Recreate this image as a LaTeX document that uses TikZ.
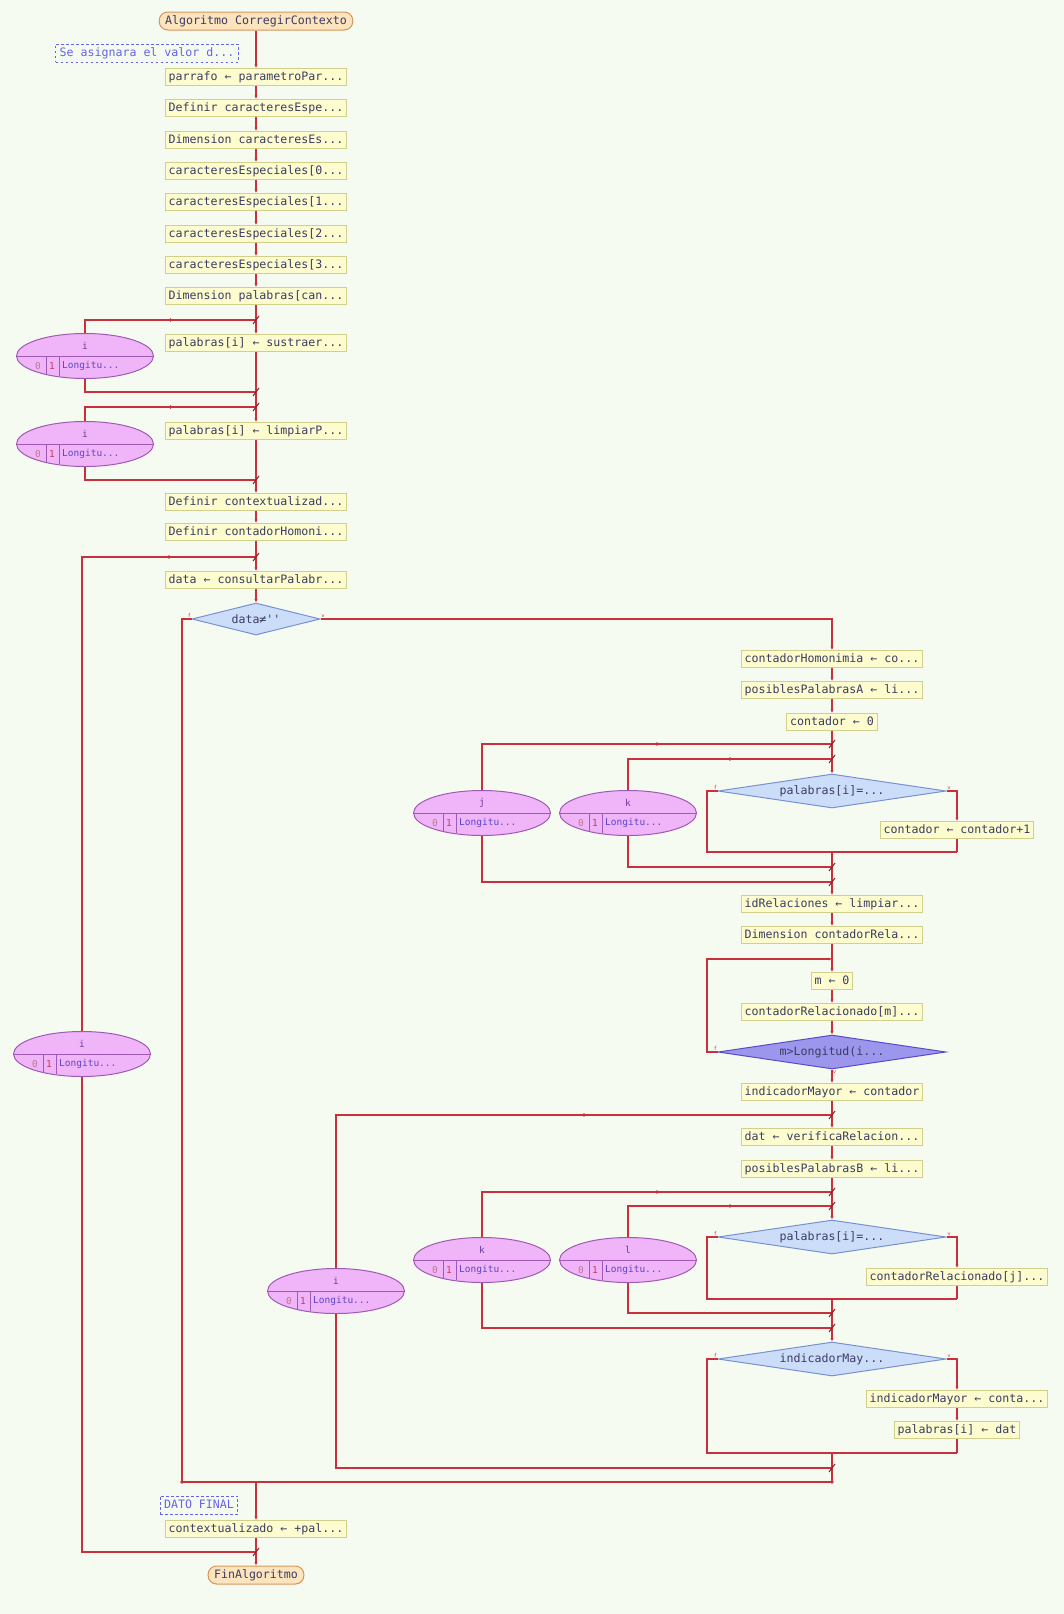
\documentclass[tikz,border=0pt]{standalone}
\usepackage{fontspec}
\setmonofont{DejaVu Sans Mono}
\usepackage{tikz}
\usetikzlibrary{shapes.geometric,arrows.meta,calc}

\definecolor{fondo}{RGB}{246,251,242}
\definecolor{rojo}{RGB}{200,48,60}
\definecolor{tinta}{RGB}{60,60,100}
\definecolor{cajafondo}{RGB}{252,252,206}
\definecolor{cajaborde}{RGB}{208,208,140}
\definecolor{termfondo}{RGB}{252,228,190}
\definecolor{termborde}{RGB}{214,150,90}
\definecolor{notacolor}{RGB}{100,100,230}
\definecolor{decfondo}{RGB}{204,221,250}
\definecolor{decborde}{RGB}{120,144,208}
\definecolor{repfondo}{RGB}{156,150,236}
\definecolor{repborde}{RGB}{90,76,200}
\definecolor{parafondo}{RGB}{240,180,248}
\definecolor{paraborde}{RGB}{160,90,180}
\definecolor{paratinta}{RGB}{110,60,160}

\tikzset{
    every node/.style={font=\ttfamily\fontsize{11.6pt}{13pt}\selectfont, text=tinta},
    caja/.style={draw=cajaborde, fill=cajafondo, line width=1pt, inner xsep=3.5pt, inner ysep=0pt,
        minimum height=17pt, text height=8.5pt, text depth=2.5pt},
    term/.style={caja, draw=termborde, fill=termfondo, rounded corners=8.5pt, minimum height=18pt, inner xsep=6pt},
    nota/.style={draw=notacolor, dash pattern=on 2.5pt off 2.5pt, line width=1pt, text=notacolor,
        inner xsep=4pt, inner ysep=0pt, minimum height=18pt, text height=8.5pt, text depth=2.5pt},
    decision/.style={diamond, aspect=6.7, draw=decborde, fill=decfondo, line width=1pt, inner sep=0pt,
        minimum width=228pt, minimum height=34pt},
    repetir/.style={decision, draw=repborde, fill=repfondo},
    paraell/.style={ellipse, draw=paraborde, fill=parafondo, line width=1pt, inner sep=0pt,
        minimum width=137pt, minimum height=45pt},
    paradiv/.style={draw=paraborde, line width=0.8pt},
    paratxt/.style={font=\ttfamily\fontsize{9.5pt}{10pt}\selectfont, inner sep=0pt},
    linea/.style={draw=rojo, line width=1.5pt},
    flujo/.style={linea, -{Latex[length=3.5pt,width=3.5pt]}},
    marca/.style={draw=rojo!70!black, line width=1pt},
    etq/.style={font=\sffamily\fontsize{6pt}{6pt}\selectfont, text=rojo, inner sep=1pt},
}

% elipse de un ciclo Para: nombre, posicion, variable
\newcommand{\bucle}[3]{%
    \node[paraell] (#1) at (#2) {};
    \draw[paradiv] (#1.west) -- (#1.east)
        ([shift={(-39,0)}]#1.center) -- ++(0,18)
        ([shift={(-26,0)}]#1.center) -- ++(0,20);
    \node[paratxt, text=paratinta] (#1v) at ([shift={(0,-10)}]#1.center) {#3};
    \node[paratxt, text={rgb,255:red,190;green,120;blue,140}] (#1a) at ([shift={(-47,10)}]#1.center) {0};
    \node[paratxt, text={rgb,255:red,200;green,60;blue,90}] (#1b) at ([shift={(-33,10)}]#1.center) {1};
    \node[paratxt, text={rgb,255:red,90;green,70;blue,200}, anchor=west] (#1c) at ([shift={(-23,10)}]#1.center) {Longitu...};
}

\begin{document}
\begin{tikzpicture}[x=1pt,y=-1pt]
    \fill[fondo] (0,0) rectangle (1064,1614);

    % columna principal
    \node[term] (inicio) at (256,21) {Algoritmo CorregirContexto};
    \node[nota] (com1) at (147,53) {Se asignara el valor d...};
    \node[caja] (b1) at (256,77) {parrafo ← parametroPar...};
    \node[caja] (b2) at (256,108) {Definir caracteresEspe...};
    \node[caja] (b3) at (256,140) {Dimension caracteresEs...};
    \node[caja] (b4) at (256,171) {caracteresEspeciales[0...};
    \node[caja] (b5) at (256,202) {caracteresEspeciales[1...};
    \node[caja] (b6) at (256,234) {caracteresEspeciales[2...};
    \node[caja] (b7) at (256,265) {caracteresEspeciales[3...};
    \node[caja] (b8) at (256,296) {Dimension palabras[can...};
    \node[caja] (b9) at (256,343) {palabras[i] ← sustraer...};
    \node[caja] (b10) at (256,431) {palabras[i] ← limpiarP...};
    \node[caja] (b11) at (256,502) {Definir contextualizad...};
    \node[caja] (b12) at (256,532) {Definir contadorHomoni...};
    \node[caja] (b13) at (256,580) {data ← consultarPalabr...};
    \node[decision, aspect=4, minimum width=128pt, minimum height=32pt,
        label={[etq,anchor=south east]west:f}, label={[etq,anchor=south west]east:v}] (d1) at (256,619) {data≠''};

    % rama verdadera
    \node[caja] (b14) at (832,659) {contadorHomonimia ← co...};
    \node[caja] (b15) at (832,690) {posiblesPalabrasA ← li...};
    \node[caja] (b16) at (832,722) {contador ← 0};
    \node[decision, label={[etq,anchor=south east]west:f}, label={[etq,anchor=south west]east:v}] (d2) at (832,791) {palabras[i]=...};
    \node[caja] (b17) at (957,830) {contador ← contador+1};
    \node[caja] (b18) at (832,904) {idRelaciones ← limpiar...};
    \node[caja] (b19) at (832,935) {Dimension contadorRela...};
    \node[caja] (b20) at (832,981) {m ← 0};
    \node[caja] (b21) at (832,1012) {contadorRelacionado[m]...};
    \node[repetir, label={[etq,anchor=south east]west:f}, label={[etq,anchor=north west]south:v}] (d3) at (832,1052) {m>Longitud(i...};
    \node[caja] (b22) at (832,1092) {indicadorMayor ← contador};
    \node[caja] (b23) at (832,1137) {dat ← verificaRelacion...};
    \node[caja] (b24) at (832,1169) {posiblesPalabrasB ← li...};
    \node[decision, label={[etq,anchor=south east]west:f}, label={[etq,anchor=south west]east:v}] (d4) at (832,1237) {palabras[i]=...};
    \node[caja] (b25) at (957,1277) {contadorRelacionado[j]...};
    \node[decision, label={[etq,anchor=south east]west:f}, label={[etq,anchor=south west]east:v}] (d5) at (832,1359) {indicadorMay...};
    \node[caja] (b26) at (957,1399) {indicadorMayor ← conta...};
    \node[caja] (b27) at (957,1430) {palabras[i] ← dat};

    % final
    \node[nota] (com2) at (199,1505) {DATO FINAL};
    \node[caja] (b28) at (256,1529) {contextualizado ← +pal...};
    \node[term] (fin) at (256,1575) {FinAlgoritmo};

    % ciclos Para
    \bucle{e1}{85,356}{i}
    \bucle{e2}{85,444}{i}
    \bucle{e3}{82,1054}{i}
    \bucle{ej}{482,813}{j}
    \bucle{ek}{628,813}{k}
    \bucle{ei}{336,1291}{i}
    \bucle{ek2}{482,1260}{k}
    \bucle{el}{628,1260}{l}

    % puntos de union
    \coordinate (t1) at (256,320);  \coordinate (u1) at (256,392);
    \coordinate (t2) at (256,407);  \coordinate (u2) at (256,480);
    \coordinate (t3) at (256,557);  \coordinate (u3) at (256,1552);
    \coordinate (tj) at (832,744);  \coordinate (tk) at (832,759);
    \coordinate (uk) at (832,867);  \coordinate (uj) at (832,882);
    \coordinate (m2l) at (707,852); \coordinate (m2) at (832,852); \coordinate (m2r) at (957,852);
    \coordinate (rl) at (707,959);  \coordinate (rt) at (832,959);
    \coordinate (ti) at (832,1115); \coordinate (ui) at (832,1468);
    \coordinate (tk2) at (832,1192); \coordinate (tl) at (832,1206);
    \coordinate (ul) at (832,1313); \coordinate (uk2) at (832,1328);
    \coordinate (m4l) at (707,1299); \coordinate (m4) at (832,1299); \coordinate (m4r) at (957,1299);
    \coordinate (m5l) at (707,1453); \coordinate (m5) at (832,1453); \coordinate (m5r) at (957,1453);
    \coordinate (fl) at (182,1482); \coordinate (mj) at (256,1482); \coordinate (fr) at (832,1482);

    % flujo recto
    \foreach \a/\b in {inicio/b1,b1/b2,b2/b3,b3/b4,b4/b5,b5/b6,b6/b7,b7/b8,b8/b9,b9/b10,b10/b11,b11/b12,b12/b13,b13/d1,
        b14/b15,b15/b16,b16/d2,m2/b18,b18/b19,b19/b20,b20/b21,b21/d3,d3/b22,b22/b23,b23/b24,b24/d4,m4/d5,b26/b27,
        mj/b28,b28/fin}
        \draw[flujo] (\a) -- (\b);

    % condicionales
    \draw[flujo] (d1.east) -| (b14);
    \draw[linea] (d1.west) -| (fl) -- (fr);
    \draw[linea] (m5) -- (fr);
    \draw[linea] (d2.west) -| (m2l) -- (m2r);
    \draw[flujo] (d2.east) -| (b17);
    \draw[linea] (b17) -- (m2r);
    \draw[flujo] (d3.west) -| (rl) -- (rt);
    \draw[linea] (d4.west) -| (m4l) -- (m4r);
    \draw[flujo] (d4.east) -| (b25);
    \draw[linea] (b25) -- (m4r);
    \draw[linea] (d5.west) -| (m5l) -- (m5r);
    \draw[flujo] (d5.east) -| (b26);
    \draw[linea] (b27) -- (m5r);
    \fill[rojo] (fl) circle (1.8) (fr) circle (1.8);

    % lazos de los ciclos
    \foreach \e/\t/\u in {e1/t1/u1,e2/t2/u2,e3/t3/u3,ej/tj/uj,ek/tk/uk,ei/ti/ui,ek2/tk2/uk2,el/tl/ul}{
        \draw[linea] (\e.north) |- (\t);
        \draw[linea] (\e.south) |- (\u);
        \fill[rojo] ($(\e.north |- \t)!.5!(\t)$) circle (1.8);
        \draw[marca] ([shift={(-3,4)}]\t) -- ([shift={(3,-4)}]\t);
        \draw[marca] ([shift={(-3,4)}]\u) -- ([shift={(3,-4)}]\u);
    }
\end{tikzpicture}
\end{document}
